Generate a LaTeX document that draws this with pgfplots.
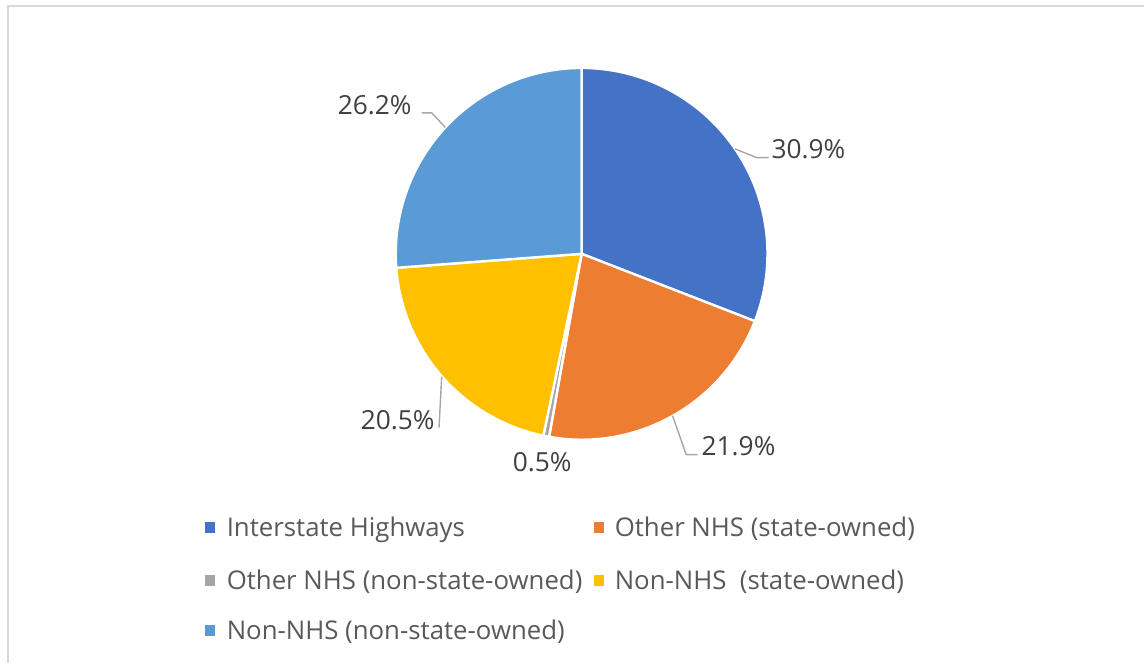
\documentclass[border=0pt]{standalone}
\usepackage{pgfplots}
\pgfplotsset{compat=1.18}
\usepackage{fontspec}
\setmainfont{Open Sans}
\definecolor{c1}{HTML}{4472C4}
\definecolor{c2}{HTML}{ED7D31}
\definecolor{c3}{HTML}{A5A5A5}
\definecolor{c4}{HTML}{FFC000}
\definecolor{c5}{HTML}{5B9BD5}
\definecolor{lbl}{HTML}{404040}
\definecolor{leg}{HTML}{595959}
\definecolor{lead}{HTML}{A6A6A6}
\definecolor{frame}{HTML}{D9D9D9}
\begin{document}
\begin{tikzpicture}
\begin{axis}[at={(0,0)}, anchor=south west, scale only axis,
  width=1145pt, height=663pt, xmin=0, xmax=1145, ymin=0, ymax=663,
  hide axis, clip=false]
% frame
\draw[frame, line width=1.5pt] (axis cs:7.8,0) -- (axis cs:7.8,657.2) -- (axis cs:1145,657.2);
% pie slices (values in percent, clockwise from 12 o'clock)
\gdef\startang{90}
\foreach \v/\c in {30.9/c1,21.9/c2,0.5/c3,20.5/c4,26.2/c5}{
  \pgfmathsetmacro\endang{\startang - 3.6*\v}
  \edef\temp{\noexpand\fill[\c, draw=white, line width=2.4pt, line join=round]
    (axis cs:582,409) -- ++(\startang:186pt) arc[start angle=\startang, end angle=\endang, radius=186pt] -- cycle;}
  \temp
  \global\let\startang\endang
}
% leader lines
\draw[lead, line width=1.4pt] (axis cs:735.5,514) -- (axis cs:757,505.3) -- (axis cs:769,505.3);
\draw[lead, line width=1.4pt] (axis cs:673,247) -- (axis cs:686.7,208) -- (axis cs:698,208);
\draw[lead, line width=1.4pt] (axis cs:442,286) -- (axis cs:439.3,235);
\draw[lead, line width=1.4pt] (axis cs:445.6,535.5) -- (axis cs:432,550) -- (axis cs:422,550);
% data labels
\begin{scope}[every node/.style={inner sep=0pt, text=lbl, font=\fontsize{26.3}{30}\selectfont}]
\node at (axis cs:809,514) {30.9\%};
\node at (axis cs:739,217) {21.9\%};
\node at (axis cs:542.5,201) {0.5\%};
\node at (axis cs:398,243) {20.5\%};
\node at (axis cs:375,558) {26.2\%};
\end{scope}
% legend
\begin{scope}[every node/.style={inner sep=0pt, text=leg, anchor=base west, font=\fontsize{25.8}{30}\selectfont}]
\fill[c1] (axis cs:205,129.5) rectangle (axis cs:215,140.5);
\node at (axis cs:226.7,126) {Interstate Highways};
\fill[c2] (axis cs:594,129.5) rectangle (axis cs:604,140.5);
\node at (axis cs:615,126) {Other NHS (state-owned)};
\fill[c3] (axis cs:205,76.5) rectangle (axis cs:215,87.5);
\node at (axis cs:226.7,73.5) {Other NHS (non-state-owned)};
\fill[c4] (axis cs:594,76.5) rectangle (axis cs:604,87.5);
\node at (axis cs:615,73.5) {Non-NHS\ \ (state-owned)};
\fill[c5] (axis cs:205,26.5) rectangle (axis cs:215,37.5);
\node at (axis cs:226.7,23.5) {Non-NHS (non-state-owned)};
\end{scope}
\end{axis}
\useasboundingbox (0,0) rectangle (1145pt,663pt);
\end{tikzpicture}
\end{document}
